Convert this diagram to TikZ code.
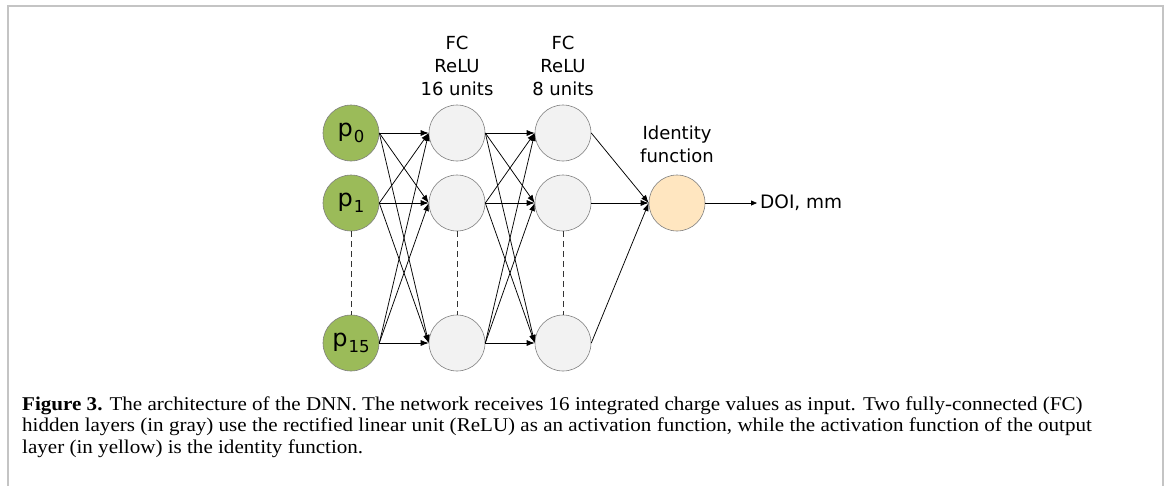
\documentclass[tikz,border=0pt]{standalone}
\usepackage{fontspec}
\setmainfont{Liberation Serif}
\newfontfamily\diagfont{DejaVu Sans}
\usetikzlibrary{arrows.meta}
\definecolor{ingreen}{HTML}{9BBB59}
\definecolor{hidgray}{HTML}{F2F2F2}
\definecolor{outpeach}{HTML}{FFE6C0}
\definecolor{ringgray}{HTML}{7F7F7F}
\definecolor{framegray}{HTML}{C4C4C4}
\newcommand\plabel[1]{{\fontsize{24}{24}\selectfont p}\kern1pt\raisebox{-6pt}{\fontsize{16.5}{16.5}\selectfont #1}}
\newcommand\capwide[1]{\scalebox{1.08}[1]{#1}}
\begin{document}
\begin{tikzpicture}[x=1pt,y=-1pt,
  neuron/.style={circle,draw=ringgray,line width=0.6pt,minimum size=56pt,inner sep=0pt,font=\diagfont},
  innode/.style={neuron,fill=ingreen},
  hidnode/.style={neuron,fill=hidgray},
  outnode/.style={neuron,fill=outpeach},
  conn/.style={-{Latex[length=8pt,width=6pt]},line width=0.75pt,black},
  gapline/.style={dashed,dash pattern=on 6pt off 4pt,line width=0.7pt,black!80},
  layerlabel/.style={font=\diagfont\fontsize{18}{23}\selectfont,align=center,anchor=south},
  capline/.style={anchor=base west,inner sep=0pt,font=\fontsize{19.5}{21}\selectfont}]
\useasboundingbox (0,0) rectangle (1167,485);
\draw[framegray,line width=2pt] (7.5,486) -- (7.5,5.5) -- (1163,5.5) -- (1163,486);

% input layer
\node[innode] (i0) at (351,133) {\plabel{0}};
\node[innode] (i1) at (351,203) {\plabel{1}};
\node[innode] (i2) at (351,343) {\plabel{15}};
% hidden layer 1
\node[hidnode] (a0) at (457,133) {};
\node[hidnode] (a1) at (457,203) {};
\node[hidnode] (a2) at (457,343) {};
% hidden layer 2
\node[hidnode] (b0) at (563,133) {};
\node[hidnode] (b1) at (563,203) {};
\node[hidnode] (b2) at (563,343) {};
% output
\node[outnode] (o) at (677,203) {};
\node[anchor=west,font=\diagfont\fontsize{18.5}{22}\selectfont,inner sep=3pt] (doi) at (757,203) {DOI, mm};

% labels
\node[layerlabel] (l1) at (457,99) {FC\\ReLU\\16 units};
\node[layerlabel] (l2) at (563,99) {FC\\ReLU\\8 units};
\node[layerlabel] (l3) at (677,166) {Identity\\function};

% dashed gaps
\draw[gapline] (i1) -- (i2);
\draw[gapline] (a1) -- (a2);
\draw[gapline] (b1) -- (b2);

% connections
\foreach \s in {i0,i1,i2}{
  \foreach \t in {a0,a1,a2}{
    \draw[conn] (\s.east) -- (\t.west);
  }
}
\foreach \s in {a0,a1,a2}{
  \foreach \t in {b0,b1,b2}{
    \draw[conn] (\s.east) -- (\t.west);
  }
}
\foreach \s in {b0,b1,b2}{
  \draw[conn] (\s.east) -- (o.west);
}
\draw[-{Triangle[length=6pt,width=5pt]},line width=0.75pt] (o) -- (doi);

% caption
\node[capline] (c1) at (22,410) {\capwide{\textbf{Figure 3.} The architecture of the DNN. The network receives 16 integrated charge values as input. Two fully-connected (FC)}};
\node[capline] (c2) at (22,431.5) {\capwide{hidden layers (in gray) use the rectified linear unit (ReLU) as an activation function, while the activation function of the output}};
\node[capline] (c3) at (22,453) {\capwide{layer (in yellow) is the identity function.}};
\end{tikzpicture}
\end{document}
